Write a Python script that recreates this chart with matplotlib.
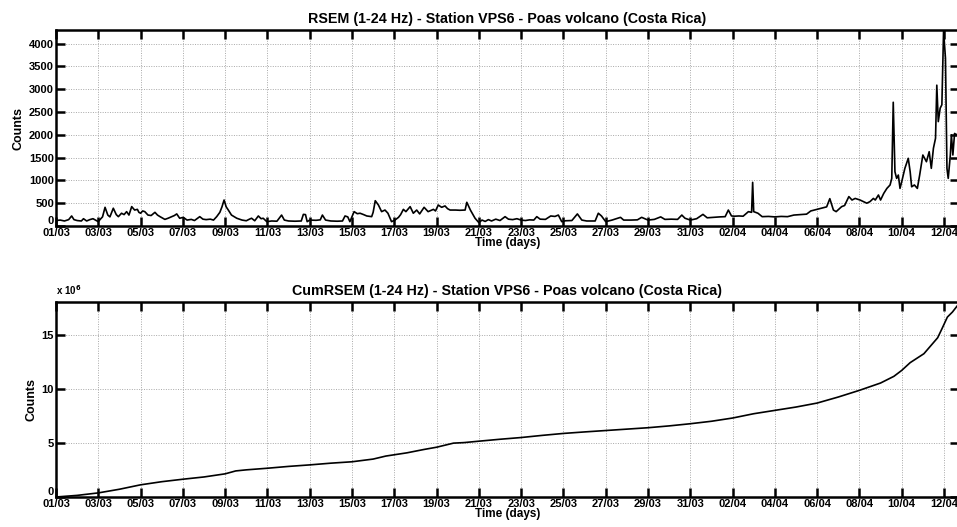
import matplotlib
matplotlib.use("Agg")
import matplotlib.pyplot as plt

plt.rcParams['font.family'] = ['Liberation Sans', 'DejaVu Sans']
plt.rcParams['font.weight'] = 'bold'

# ---- data (days since 01/03) ----
rsem_day = [0.0, 0.2, 0.4, 0.6, 0.74, 0.85, 1.0, 1.2, 1.3, 1.45, 1.6, 1.75, 1.9, 2.0, 2.1, 2.2, 2.32, 2.45, 2.55, 2.71,
            2.85, 2.95, 3.1, 3.22, 3.34, 3.45, 3.58, 3.72, 3.85, 3.92, 4.0, 4.1, 4.2, 4.35, 4.5, 4.68, 4.8, 4.92, 5.15, 5.3,
            5.45, 5.6, 5.71, 5.85, 6.02, 6.2, 6.4, 6.55, 6.8, 6.95, 7.1, 7.3, 7.45, 7.6, 7.75, 7.85, 7.95, 8.05, 8.15, 8.3,
            8.55, 8.8, 9.0, 9.15, 9.25, 9.4, 9.57, 9.7, 9.8, 9.97, 10.2, 10.45, 10.67, 10.8, 11.0, 11.3, 11.6, 11.7, 11.8, 11.88,
            12.0, 12.3, 12.5, 12.6, 12.75, 13.0, 13.3, 13.55, 13.67, 13.8, 13.9, 14.1, 14.25, 14.38, 14.55, 14.7, 14.93, 15.0, 15.1, 15.25,
            15.4, 15.56, 15.7, 15.87, 16.03, 16.2, 16.3, 16.43, 16.55, 16.75, 16.9, 17.06, 17.2, 17.41, 17.6, 17.85, 17.95, 18.08, 18.24, 18.4,
            18.52, 18.64, 18.9, 19.1, 19.35, 19.43, 19.6, 19.82, 20.0, 20.15, 20.3, 20.45, 20.6, 20.8, 21.0, 21.24, 21.4, 21.6, 21.8, 22.0,
            22.2, 22.4, 22.6, 22.74, 22.9, 23.15, 23.4, 23.6, 23.76, 23.92, 24.1, 24.4, 24.66, 24.87, 25.1, 25.5, 25.65, 25.8, 26.0, 26.3,
            26.7, 26.85, 27.2, 27.5, 27.7, 28.0, 28.3, 28.6, 28.8, 29.1, 29.4, 29.6, 29.75, 30.0, 30.3, 30.6, 30.8, 31.1, 31.4, 31.65,
            31.8, 31.95, 32.1, 32.3, 32.5, 32.75, 32.9, 32.95, 33.0, 33.2, 33.4, 33.7, 34.0, 34.3, 34.6, 34.9, 35.2, 35.5, 35.7, 36.0,
            36.2, 36.45, 36.6, 36.7, 36.77, 36.9, 37.16, 37.3, 37.5, 37.65, 37.8, 38.03, 38.19, 38.35, 38.5, 38.66, 38.75, 38.9, 39.0, 39.15,
            39.3, 39.45, 39.53, 39.6, 39.68, 39.76, 39.84, 39.92, 40.0, 40.15, 40.31, 40.4, 40.47, 40.6, 40.74, 40.85, 41.0, 41.17, 41.3, 41.4,
            41.5, 41.6, 41.66, 41.73, 41.82, 41.9, 41.98, 42.07, 42.14, 42.2, 42.3, 42.35, 42.42, 42.5, 42.6, 42.71]
rsem_counts = [120, 130, 110, 140, 220, 140, 120, 110, 160, 110, 140, 160, 120, 95, 150, 200, 410, 240, 200, 390,
               250, 205, 280, 250, 315, 240, 425, 350, 365, 300, 280, 330, 315, 240, 230, 300, 240, 205, 145, 170,
               200, 230, 265, 170, 190, 130, 145, 120, 205, 150, 140, 150, 130, 205, 300, 420, 570, 420, 350, 240,
               170, 130, 115, 150, 170, 115, 220, 160, 170, 95, 110, 105, 240, 130, 110, 105, 110, 255, 250, 95,
               130, 125, 135, 240, 130, 110, 105, 110, 220, 200, 95, 315, 270, 280, 250, 220, 205, 300, 555, 460,
               315, 350, 280, 95, 130, 190, 250, 365, 315, 425, 280, 350, 265, 410, 315, 365, 330, 460, 410, 440,
               380, 350, 350, 345, 350, 520, 350, 170, 75, 130, 100, 140, 110, 150, 120, 205, 150, 140, 160, 130,
               120, 135, 130, 205, 150, 145, 220, 210, 240, 95, 115, 120, 265, 130, 110, 110, 280, 220, 95, 130,
               190, 130, 130, 135, 190, 130, 145, 200, 145, 150, 145, 240, 170, 130, 160, 255, 180, 190, 200, 205,
               350, 220, 215, 220, 215, 315, 300, 958, 315, 280, 205, 210, 200, 210, 205, 240, 250, 260, 330, 365,
               390, 420, 600, 450, 350, 315, 425, 450, 645, 570, 605, 570, 535, 500, 535, 605, 570, 680, 570, 715,
               825, 900, 1045, 2715, 1190, 1045, 1118, 825, 970, 1265, 1485, 1190, 860, 900, 825, 1118, 1557, 1410, 1630, 1265,
               1705, 1925, 3090, 2290, 2585, 2660, 4280, 3680, 1265, 1045, 1557, 2000, 1557, 2030, 2000, 2050]

cum_day = [0, 1, 2, 3, 4, 5, 6, 7, 8, 8.5, 9, 10, 11, 12, 13, 14, 15, 15.6, 16, 16.6, 17.4, 18, 18.8, 19.3, 20,
           21, 22, 23, 24, 25, 26, 27, 28, 29, 30, 31, 32, 33, 34, 35, 36, 37, 38, 39, 39.63, 40, 40.4, 41.05,
           41.7, 41.9, 42.16, 42.4, 42.71]
cum_millions = [0, 0.15, 0.38, 0.72, 1.13, 1.42, 1.65, 1.86, 2.15, 2.42, 2.52, 2.67, 2.84, 2.98, 3.14, 3.27, 3.52, 3.8,
                3.92, 4.1, 4.41, 4.62, 5.0, 5.05, 5.18, 5.36, 5.52, 5.72, 5.9, 6.04, 6.17, 6.3, 6.43, 6.6, 6.8, 7.03,
                7.33, 7.73, 8.04, 8.35, 8.72, 9.28, 9.9, 10.58, 11.2, 11.75, 12.47, 13.3, 14.78, 15.6, 16.7, 17.17, 17.95]

tick_days = list(range(0, 43, 2))
tick_labels = ['01/03', '03/03', '05/03', '07/03', '09/03', '11/03', '13/03', '15/03', '17/03', '19/03', '21/03',
               '23/03', '25/03', '27/03', '29/03', '31/03', '02/04', '04/04', '06/04', '08/04', '10/04', '12/04']
top_yticks = [0, 500, 1000, 1500, 2000, 2500, 3000, 3500, 4000]
bot_yticks = [0, 5, 10, 15]

title_top = 'RSEM (1-24 Hz) - Station VPS6 - Poas volcano (Costa Rica)'
title_bot = 'CumRSEM (1-24 Hz) - Station VPS6 - Poas volcano (Costa Rica)'

W, H = 957, 527
fig = plt.figure(figsize=(W / 100, H / 100), dpi=100)

def style(ax, ylim, yticks):
    ax.set_xlim(0, 42.71)
    ax.set_ylim(*ylim)
    ax.set_xticks(tick_days)
    ax.set_xticklabels(tick_labels)
    ax.set_yticks(yticks)
    ax.tick_params(direction='in', length=6.5, width=1.8, top=True, right=True,
                   labelsize=8, pad=1.5)
    for lab in ax.get_xticklabels() + ax.get_yticklabels():
        lab.set_fontweight('bold')
    ylabs = ax.get_yticklabels()
    ylabs[0].set_verticalalignment('bottom')
    for s in ax.spines.values():
        s.set_linewidth(1.8)
    ax.grid(True, color='#a8a8a8', linestyle=(0, (1, 1.5)), linewidth=0.7)
    ax.set_axisbelow(True)
    ax.set_xlabel('Time (days)', fontsize=8.5, fontweight='bold', labelpad=-1)
    ax.set_ylabel('Counts', fontsize=9, fontweight='bold', labelpad=3)

ax1 = fig.add_axes([56 / W, 1 - 226 / H, 903 / W, 196 / H])
ax1.plot(rsem_day, rsem_counts, color='black', linewidth=1.2)
style(ax1, (0, 4300), top_yticks)
ax1.set_title(title_top, fontsize=10.3, fontweight='bold', pad=5)

ax2 = fig.add_axes([56 / W, 1 - 497 / H, 903 / W, 195 / H])
ax2.plot(cum_day, cum_millions, color='black', linewidth=1.2)
style(ax2, (0, 18.1), bot_yticks)
ax2.set_title(title_bot, fontsize=10.3, fontweight='bold', pad=5)
ax2.text(0.0, 1.025, 'x 10$^6$', transform=ax2.transAxes, fontsize=7,
         fontweight='bold', ha='left', va='bottom')

fig.savefig('out.png', dpi=100)
